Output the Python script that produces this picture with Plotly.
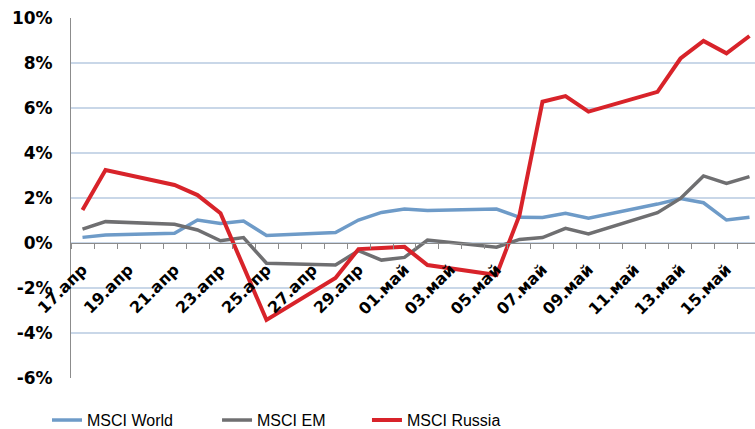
import plotly.graph_objects as go

dates = ["2014-04-17", "2014-04-18", "2014-04-21", "2014-04-22", "2014-04-23",
         "2014-04-24", "2014-04-25", "2014-04-28", "2014-04-29", "2014-04-30",
         "2014-05-01", "2014-05-02", "2014-05-05", "2014-05-06", "2014-05-07",
         "2014-05-08", "2014-05-09", "2014-05-12", "2014-05-13", "2014-05-14",
         "2014-05-15", "2014-05-16"]

msci_world = [0.25, 0.36, 0.43, 1.02, 0.87, 0.98, 0.33, 0.47, 1.02, 1.36, 1.51,
              1.44, 1.51, 1.14, 1.13, 1.32, 1.10, 1.73, 1.98, 1.79, 1.02, 1.14]
msci_em = [0.62, 0.95, 0.83, 0.58, 0.10, 0.24, -0.90, -0.98, -0.34, -0.76, -0.64,
           0.13, -0.19, 0.16, 0.24, 0.65, 0.40, 1.35, 1.98, 2.98, 2.65, 2.95]
msci_russia = [1.47, 3.24, 2.58, 2.13, 1.32, -1.05, -3.42, -1.55, -0.27, -0.22, -0.17,
               -0.98, -1.42, 1.24, 6.28, 6.53, 5.84, 6.72, 8.20, 8.98, 8.43, 9.20]

tick_dates = ["2014-04-17", "2014-04-19", "2014-04-21", "2014-04-23", "2014-04-25",
              "2014-04-27", "2014-04-29", "2014-05-01", "2014-05-03", "2014-05-05",
              "2014-05-07", "2014-05-09", "2014-05-11", "2014-05-13", "2014-05-15"]
tick_labels = ["17.апр", "19.апр", "21.апр", "23.апр", "25.апр", "27.апр", "29.апр",
               "01.май", "03.май", "05.май", "07.май", "09.май", "11.май", "13.май",
               "15.май"]

y_ticks = [-6, -4, -2, 0, 2, 4, 6, 8, 10]
y_tick_labels = ["-6%", "-4%", "-2%", "0%", "2%", "4%", "6%", "8%", "10%"]

series = [
    ("MSCI World", msci_world, "#6e9bc8", 3.5, "legend", -0.0351),
    ("MSCI EM", msci_em, "#6f6f71", 3.5, "legend2", 0.2135),
    ("MSCI Russia", msci_russia, "#d8232a", 4, "legend3", 0.4327),
]

fig = go.Figure()
legend_font = dict(family="Liberation Sans, Arial, sans-serif", size=16, color="#000000")
layout_legends = {}
for name, vals, color, w, leg, lx in series:
    fig.add_trace(go.Scatter(x=dates, y=vals, name=name, mode="lines", legend=leg,
                             line=dict(color=color, width=w)))
    layout_legends[leg] = dict(orientation="h", x=lx, xanchor="left", y=-0.117,
                               yanchor="middle", font=legend_font, itemwidth=30,
                               bgcolor="rgba(0,0,0,0)")

bold_font = dict(family="DejaVu Sans", size=17, color="#000000", weight="bold")
xtick_font = dict(family="DejaVu Sans", size=16, color="#000000", weight="bold")

fig.update_layout(
    width=755, height=429,
    margin=dict(l=71, r=0, t=18, b=51, autoexpand=False),
    paper_bgcolor="white", plot_bgcolor="white",
    showlegend=True,
    **layout_legends,
    xaxis=dict(
        type="date", automargin=False,
        range=["2014-04-16 12:00", "2014-05-16 05:45"],
        anchor="free", position=0.375,
        showline=True, linecolor="#8c8c8c", linewidth=1,
        showgrid=False, zeroline=False,
        tickmode="array", tickvals=tick_dates, ticktext=tick_labels,
        tickangle=-45, ticks="", tickfont=xtick_font, ticklabelstandoff=10,
        minor=dict(ticks="outside", ticklen=5, tickcolor="#8c8c8c", tickwidth=1,
                   tick0="2014-04-16 12:00", dtick=86400000, showgrid=False),
    ),
    yaxis=dict(
        range=[-6, 10], automargin=False,
        tickmode="array", tickvals=y_ticks, ticktext=y_tick_labels,
        tickfont=bold_font,
        showgrid=True, gridcolor="#c9d7e8", gridwidth=1.5,
        zeroline=False, showline=True, linecolor="#8c8c8c", linewidth=1,
        ticks="", ticklabelstandoff=14,
    ),
)

fig.write_html("out.html", config={"displayModeBar": False},
               post_script="document.body.style.margin='0';document.body.style.overflow='hidden';")
